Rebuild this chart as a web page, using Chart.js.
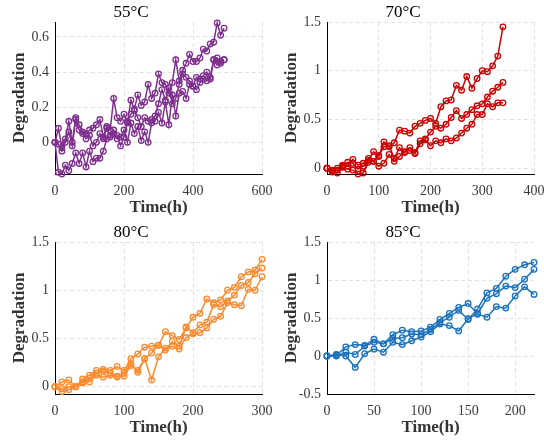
<!DOCTYPE html>
<html>
<head>
<meta charset="utf-8">
<script src="https://cdn.jsdelivr.net/npm/chart.js@4.4.1/dist/chart.umd.min.js"></script>
<style>
  body { margin: 0; background: #fff; }
  #wrap { position: relative; width: 544px; height: 444px; }
  .panel { position: absolute; width: 272px; height: 222px; }
</style>
</head>
<body>
<div id="wrap">
  <div class="panel" style="left:0;top:0"><canvas id="c55"></canvas></div>
  <div class="panel" style="left:272px;top:0"><canvas id="c70"></canvas></div>
  <div class="panel" style="left:0;top:220px"><canvas id="c80"></canvas></div>
  <div class="panel" style="left:272px;top:220px"><canvas id="c85"></canvas></div>
</div>
<script>
// 55°C, readings every 10 h
const hours55 = [0,10,20,30,40,50,60,70,80,90,100,110,120,130,140,150,160,170,180,190,200,210,220,230,240,250,260,270,280,290,300,310,320,330,340,350,360,370,380,390,400,410,420,430,440,450,460,470,480,490];
const deg55a = [0,0.08,-0.03,0.02,0.12,0.0,0.14,0.10,0.06,0.05,0.07,0.08,0.10,0.13,0.03,0.09,0.07,0.25,0.14,0.12,0.16,0.11,0.24,0.19,0.27,0.21,0.23,0.33,0.25,0.28,0.39,0.34,0.33,0.28,0.34,0.47,0.35,0.41,0.45,0.50,0.46,0.46,0.48,0.53,0.52,0.56,0.57,0.68,0.61,0.65];
const deg55b = [0,-0.17,-0.18,-0.13,-0.16,-0.12,-0.06,-0.12,-0.06,-0.14,-0.05,-0.11,-0.09,-0.09,-0.05,0.02,0.03,0.05,0.02,0.03,0.07,0.0,0.11,0.05,0.09,0.01,0.06,0.0,0.11,0.12,0.17,0.11,0.23,0.10,0.27,0.15,0.28,0.29,0.25,0.33,0.32,0.30,0.34,0.36,0.35,0.37,0.47,0.48,0.45,0.47];
const deg55c = [0,-0.01,-0.05,0.0,0.06,-0.02,0.13,0.07,0.05,0.02,0.04,-0.02,0.0,0.05,0.02,0.08,0.04,0.07,0.04,-0.02,0.03,0.12,0.16,0.18,0.14,0.09,0.14,0.12,0.13,0.15,0.22,0.30,0.24,0.31,0.22,0.25,0.33,0.39,0.37,0.35,0.32,0.37,0.36,0.38,0.40,0.36,0.47,0.44,0.46,0.47];

// 70°C
const hours70 = [0,10,20,30,40,50,60,70,80,90,100,110,120,130,140,150,160,170,180,190,200,210,220,230,240,250,260,270,280,290,300,310,320,330,340];
const deg70a = [0,-0.02,0.0,0.02,0.06,0.05,-0.01,0.02,0.08,0.17,0.12,0.27,0.22,0.26,0.39,0.38,0.36,0.43,0.46,0.49,0.51,0.46,0.63,0.69,0.70,0.85,0.80,0.94,0.82,0.92,1.0,0.99,1.05,1.15,1.45];
const deg70b = [0,-0.03,-0.02,0.03,0.02,0.09,0.03,0.05,0.10,0.07,0.13,0.22,0.23,0.10,0.21,0.16,0.21,0.16,0.28,0.30,0.37,0.43,0.41,0.45,0.52,0.59,0.51,0.55,0.60,0.64,0.66,0.73,0.79,0.83,0.88];
const deg70c = [0,-0.04,-0.05,0.01,-0.01,-0.02,-0.06,-0.05,0.06,0.07,0.02,0.05,0.14,0.07,0.12,0.17,0.18,0.15,0.25,0.29,0.23,0.28,0.26,0.30,0.28,0.31,0.36,0.41,0.45,0.55,0.55,0.66,0.63,0.67,0.67];

// 80°C
const hours80 = [0,10,20,30,40,50,60,70,80,90,100,110,120,130,140,150,160,170,180,190,200,210,220,230,240,250,260,270,280,290,300];
const deg80a = [0,0.05,0.07,0.0,0.08,0.12,0.17,0.18,0.17,0.21,0.17,0.29,0.34,0.41,0.42,0.43,0.57,0.53,0.49,0.61,0.72,0.76,0.91,0.87,0.90,1.0,1.03,1.14,1.19,1.21,1.32];
const deg80b = [0,-0.02,0.0,0.0,0.05,0.05,0.12,0.10,0.12,0.11,0.11,0.22,0.17,0.29,0.35,0.43,0.38,0.47,0.42,0.62,0.56,0.64,0.67,0.85,0.83,0.89,0.95,1.05,1.08,1.17,1.23];
const deg80c = [0,-0.05,-0.03,0.0,0.04,0.09,0.14,0.16,0.14,0.10,0.14,0.24,0.15,0.29,0.07,0.31,0.40,0.42,0.39,0.51,0.55,0.56,0.61,0.70,0.73,0.87,0.85,0.84,1.01,1.00,1.14];

// 85°C
const hours85 = [0,10,20,30,40,50,60,70,80,90,100,110,120,130,140,150,160,170,180,190,200,210,220];
const deg85a = [0,0.0,0.05,0.02,0.13,0.18,0.16,0.23,0.24,0.29,0.28,0.35,0.44,0.51,0.60,0.48,0.62,0.83,0.89,1.05,1.14,1.20,1.23];
const deg85b = [0,0.01,0.12,0.15,0.14,0.22,0.16,0.28,0.34,0.32,0.33,0.38,0.48,0.56,0.64,0.69,0.55,0.51,0.65,0.63,0.79,0.91,0.81];
const deg85c = [0,0.02,0.0,-0.15,0.03,0.09,0.05,0.18,0.15,0.20,0.25,0.32,0.42,0.40,0.33,0.49,0.56,0.76,0.82,0.92,0.90,1.01,1.14];

// tick labels
const xTicks55 = [0,200,400,600];
const yTicks55 = [0,0.2,0.4,0.6];
const xTicks70 = [0,100,200,300,400];
const yTicks70 = [0,0.5,1,1.5];
const xTicks80 = [0,100,200,300];
const yTicks80 = [0,0.5,1,1.5];
const xTicks85 = [0,50,100,150,200];
const yTicks85 = [-0.5,0,0.5,1,1.5];

const serif = "'Liberation Serif', 'Times New Roman', serif";

function series(xs, ys) {
  return xs.map((x, i) => ({ x: x, y: ys[i] }));
}

function makePanel(id, title, color, xs, sets, xr, yr, xTicks, yTicks) {
  const ds = sets.map((ys) => ({
    data: series(xs, ys),
    borderColor: color,
    borderWidth: 1.5,
    pointRadius: 2.8,
    pointBorderWidth: 1.3,
    pointBorderColor: color,
    pointBackgroundColor: "rgba(255,255,255,0)",
    tension: 0,
    clip: false,
  }));
  const grid = { color: "#e2e2e2", lineWidth: 1, drawTicks: false };
  const border = { display: true, color: "#000", width: 1, dash: [4, 3] };
  new Chart(document.getElementById(id), {
    type: "line",
    data: { datasets: ds },
    options: {
      responsive: true,
      maintainAspectRatio: false,
      animation: false,
      layout: { padding: { left: 0, right: 10, top: 0, bottom: 0 } },
      plugins: {
        legend: { display: false },
        tooltip: { enabled: false },
        title: {
          display: true,
          text: title,
          color: "#000",
          font: { family: serif, size: 17, weight: "normal", lineHeight: 1 },
          padding: { top: 4, bottom: 1 },
        },
      },
      scales: {
        x: {
          type: "linear",
          min: xr[0],
          max: xr[1],
          afterBuildTicks: (s) => { s.ticks = xTicks.map((v) => ({ value: v })); },
          afterFit: (s) => {
            s.height = 48;
            s.paddingLeft = 0;
            s.paddingRight = 0;
          },
          grid: grid,
          border: border,
          ticks: {
            color: "#3a3a3a", padding: 9, maxRotation: 0,
            font: { family: serif, size: 14 },
            callback: (v) => String(v),
          },
          title: {
            display: true,
            text: "Time(h)",
            color: "#333",
            font: { family: serif, size: 17, weight: "bold" },
            padding: { top: 0, bottom: 4 },
          },
        },
        y: {
          type: "linear",
          min: yr[0],
          max: yr[1],
          afterBuildTicks: (s) => { s.ticks = yTicks.map((v) => ({ value: v })); },
          afterFit: (s) => {
            s.width = 55;
            s.paddingTop = 0;
            s.paddingBottom = 0;
          },
          grid: grid,
          border: border,
          ticks: {
            color: "#3a3a3a", padding: 6,
            font: { family: serif, size: 14 },
            callback: (v) => String(v),
          },
          title: {
            display: true,
            text: "Degradation",
            color: "#333",
            font: { family: serif, size: 17, weight: "bold" },
            padding: { top: 9, bottom: 0 },
          },
        },
      },
    },
  });
}

makePanel("c55", "55°C", "#7E2F8E", hours55, [deg55a, deg55b, deg55c], [0, 600], [-0.18, 0.685], xTicks55, yTicks55);
makePanel("c70", "70°C", "#CC0000", hours70, [deg70a, deg70b, deg70c], [0, 400], [-0.06, 1.5], xTicks70, yTicks70);
makePanel("c80", "80°C", "#F98A2E", hours80, [deg80a, deg80b, deg80c], [0, 300], [-0.075, 1.5], xTicks80, yTicks80);
makePanel("c85", "85°C", "#1A72BD", hours85, [deg85a, deg85b, deg85c], [0, 220], [-0.5, 1.5], xTicks85, yTicks85);
</script>
</body>
</html>
